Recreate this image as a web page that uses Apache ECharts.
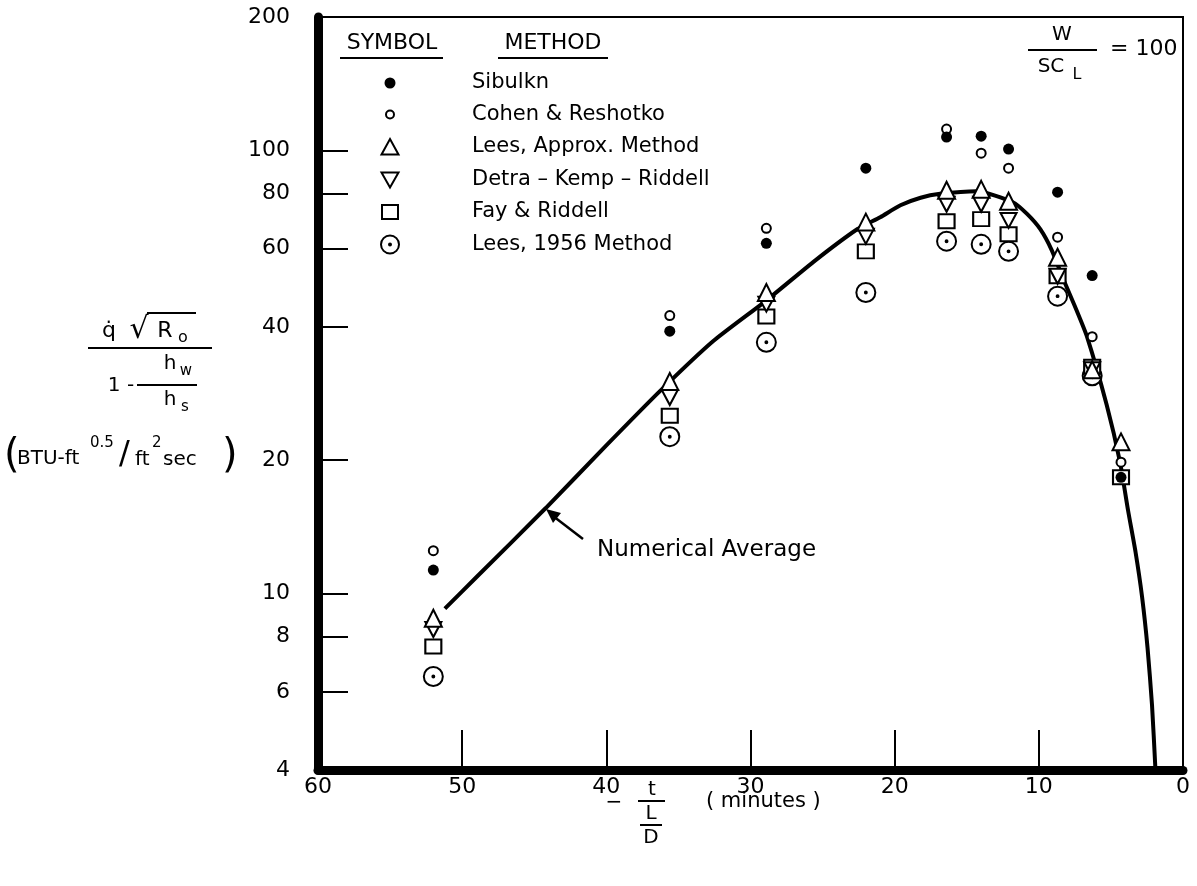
<!DOCTYPE html>
<html>
<head>
<meta charset="utf-8">
<script src="https://cdn.jsdelivr.net/npm/echarts@6/dist/echarts.min.js"></script>
<style>
html,body{margin:0;padding:0;background:#fff}
#chart{width:1197px;height:886px}
</style>
</head>
<body>
<div id="chart"></div>
<script>
var FONT = 'DejaVu Sans';

// minutes before burnout (t/(L/D)), one column per computed trajectory point
var timeX = [52, 35.6, 28.9, 22.0, 16.4, 14.0, 12.1, 8.7, 6.3, 4.3];
// heating parameter per method
var sibulkn    = [11.3, 39.1, 61.7, 91.2, 107.2, 107.7, 100.7, 80.5, 52.2, 18.3];
var cohen      = [12.5, 42.4, 66.7, null, 111.7, 98.6, 91.2, 63.7, 38.0, 19.8];
var leesApprox = [8.8, 30.1, 47.8, 68.9, 81.3, 81.7, 76.8, 57.4, 32.0, 22.0];
var detra      = [8.3, 27.7, 45.0, 64.0, 75.6, 75.6, 69.5, 52.0, 32.0, null];
var fay        = [7.6, 25.2, 42.2, 59.2, 69.2, 70.0, 64.7, 52.0, 32.5, 18.3];
var lees1956   = [6.5, 22.6, 36.9, 47.8, 62.4, 61.4, 59.2, 46.9, 31.0, null];

// numerical average curve
var avgX = [51.2, 49, 44.2, 40, 36.3, 32.6, 29.0, 25.5, 22.6, 21.0, 19.6, 18.2, 16.85, 14.3, 11.8, 10.8, 9.9, 9.1, 8.3, 7.5, 6.66, 5.3, 4.37, 3.81, 3.29, 2.84, 2.46, 2.15, 1.91];
var avgY = [9.25, 10.9, 15.6, 21.6, 28.6, 37.1, 45.6, 56.5, 66.4, 70.7, 75.2, 78.2, 79.8, 80.9, 76.4, 71.8, 66.4, 59.5, 51.2, 44.5, 38.0, 26.7, 19.8, 15.4, 12.4, 9.84, 7.55, 5.61, 4.0];

var yTickVals  = [6, 8, 10, 20, 40, 60, 80, 100];
var yLabelVals = [4, 6, 8, 10, 20, 40, 60, 80, 100, 200];

var names = ['Sibulkn', 'Cohen & Reshotko', 'Lees, Approx. Method', 'Detra \u2013 Kemp \u2013 Riddell', 'Fay & Riddell', 'Lees, 1956 Method'];

var TRI_DOWN = 'path://M0,0L20,0L10,18Z';
var CIRC_DOT = 'path://M0,10A10,10 0 1,0 20,10A10,10 0 1,0 0,10ZM9,10A1,1 0 1,0 11,10A1,1 0 1,0 9,10Z';

function pairs(vals) {
	var out = [];
	for (var i = 0; i < vals.length; i++) {
		if (vals[i] != null) out.push([timeX[i], vals[i]]);
	}
	return out;
}

var avgData = avgX.map(function(x, i) { return [x, avgY[i]]; });

var openStyle = { color: '#fff', borderColor: '#000', borderWidth: 2, opacity: 1 };

function T(x, y, text, size, align) {
	return {
		type: 'text', x: x, y: y, z: 10,
		style: { text: text, fill: '#000', fontSize: size || 20, fontFamily: FONT, align: align || 'center', verticalAlign: 'middle' }
	};
}
function L(x1, y1, x2, y2, w) {
	return { type: 'line', shape: { x1: x1, y1: y1, x2: x2, y2: y2 }, style: { stroke: '#000', lineWidth: w || 2 }, z: 10 };
}

var chart = echarts.init(document.getElementById('chart'));
var option = {
	animation: false,
	backgroundColor: '#fff',
	grid: { left: 318, right: 14, top: 17, bottom: 116, show: true, borderColor: '#000', borderWidth: 2 },
	xAxis: {
		type: 'value', min: 0, max: 60, interval: 10, inverse: true,
		axisLine: { onZero: false, lineStyle: { color: '#000', width: 9 } },
		axisTick: { inside: true, length: 40, lineStyle: { color: '#000', width: 2 } },
		axisLabel: { color: '#000', fontFamily: FONT, fontSize: 22, margin: 6 },
		splitLine: { show: false }
	},
	yAxis: {
		type: 'log', logBase: 10, min: 4, max: 200, position: 'left',
		axisLine: { onZero: false, lineStyle: { color: '#000', width: 9 } },
		axisTick: { inside: true, length: 30, customValues: yTickVals, lineStyle: { color: '#000', width: 2 } },
		axisLabel: { color: '#000', fontFamily: FONT, fontSize: 22, margin: 28, customValues: yLabelVals },
		splitLine: { show: false },
		minorTick: { show: false }
	},
	legend: {
		orient: 'vertical', left: 373, top: 67, itemWidth: 22, itemHeight: 22, itemGap: 8.5,
		selectedMode: false,
		textStyle: { fontFamily: FONT, fontSize: 21, lineHeight: 22, color: '#000', padding: [0, 0, 0, 66] },
		data: [
			{ name: names[0], icon: 'path://M0,0M22,22M5.5,11A5.5,5.5 0 1,0 16.5,11A5.5,5.5 0 1,0 5.5,11Z' },
			{ name: names[1], icon: 'path://M0,0M22,22M7,11A4,4 0 1,0 15,11A4,4 0 1,0 7,11Z' },
			{ name: names[2], icon: 'path://M0,0M22,22M11,3L19.5,18.5L2.5,18.5Z' },
			{ name: names[3], icon: 'path://M0,0M22,22M2.5,4L19.5,4L11,19Z' },
			{ name: names[4], icon: 'path://M0,0M22,22M3,4L19,4L19,18L3,18Z' },
			{ name: names[5], icon: 'path://M0,0M22,22M2,11A9,9 0 1,0 20,11A9,9 0 1,0 2,11ZM10,11A1,1 0 1,0 12,11A1,1 0 1,0 10,11Z' }
		]
	},
	series: [
		{
			name: 'Numerical Average', type: 'line', data: avgData, smooth: 0.2, showSymbol: false, symbol: 'none',
			lineStyle: { color: '#000', width: 4 }, z: 2, silent: true
		},
		{ name: names[5], type: 'scatter', data: pairs(lees1956), symbol: CIRC_DOT, symbolSize: 19, itemStyle: openStyle, z: 3 },
		{ name: names[4], type: 'scatter', data: pairs(fay), symbol: 'rect', symbolSize: [16, 14], itemStyle: openStyle, z: 4 },
		{ name: names[3], type: 'scatter', data: pairs(detra), symbol: TRI_DOWN, symbolSize: [16, 15], itemStyle: openStyle, z: 5 },
		{ name: names[2], type: 'scatter', data: pairs(leesApprox), symbol: 'triangle', symbolSize: [17, 17], itemStyle: openStyle, z: 6 },
		{ name: names[1], type: 'scatter', data: pairs(cohen), symbol: 'circle', symbolSize: 9, itemStyle: openStyle, z: 7 },
		{ name: names[0], type: 'scatter', data: pairs(sibulkn), symbol: 'circle', symbolSize: 11, itemStyle: { color: '#000', opacity: 1 }, z: 8 }
	],
	graphic: [
		// legend headings
		T(392, 43, 'SYMBOL', 22), L(340, 58, 443, 58),
		T(553, 43, 'METHOD', 22), L(498, 58, 608, 58),
		// W / SC_L = 100
		T(1062, 35, 'W', 20), L(1028, 50, 1097, 50),
		T(1051, 67, 'SC', 20), T(1077, 75, 'L', 16),
		T(1110, 49, '= 100', 22, 'left'),
		// curve annotation
		T(597, 550, 'Numerical Average', 23, 'left'),
		L(553, 516, 583, 539, 2.5),
		{ type: 'polygon', shape: { points: [[546, 509], [561, 513], [553, 523]] }, style: { fill: '#000' }, z: 10 },
		// y axis title
		T(109, 331, 'q\u0307', 22), T(139, 330, '\u221A', 30), L(147, 313, 196, 313),
		T(165, 331, 'R', 22), T(183, 338, 'o', 16),
		L(88, 348, 212, 348),
		T(170, 364, 'h', 20), T(186, 371, 'w', 15),
		T(121, 386, '1 -', 20),
		L(137, 385, 197, 385),
		T(170, 400, 'h', 20), T(185, 407, 's', 15),
		T(4, 457, '(', 40, 'left'),
		T(17, 459, 'BTU-ft', 20, 'left'),
		T(90, 443, '0.5', 15, 'left'),
		T(119, 455, '/', 32, 'left'),
		T(135, 460, 'ft', 20, 'left'),
		T(152, 443, '2', 15, 'left'),
		T(163, 460, 'sec', 20, 'left'),
		T(222, 457, ')', 40, 'left'),
		// x axis title
		T(614, 803, '\u2212', 20),
		T(652, 790, 't', 20), L(638, 801, 665, 801),
		T(651, 814, 'L', 20), L(640, 825, 662, 825),
		T(651, 838, 'D', 20),
		T(706, 802, '( minutes )', 21, 'left')
	]
};
chart.setOption(option);
</script>
</body>
</html>
